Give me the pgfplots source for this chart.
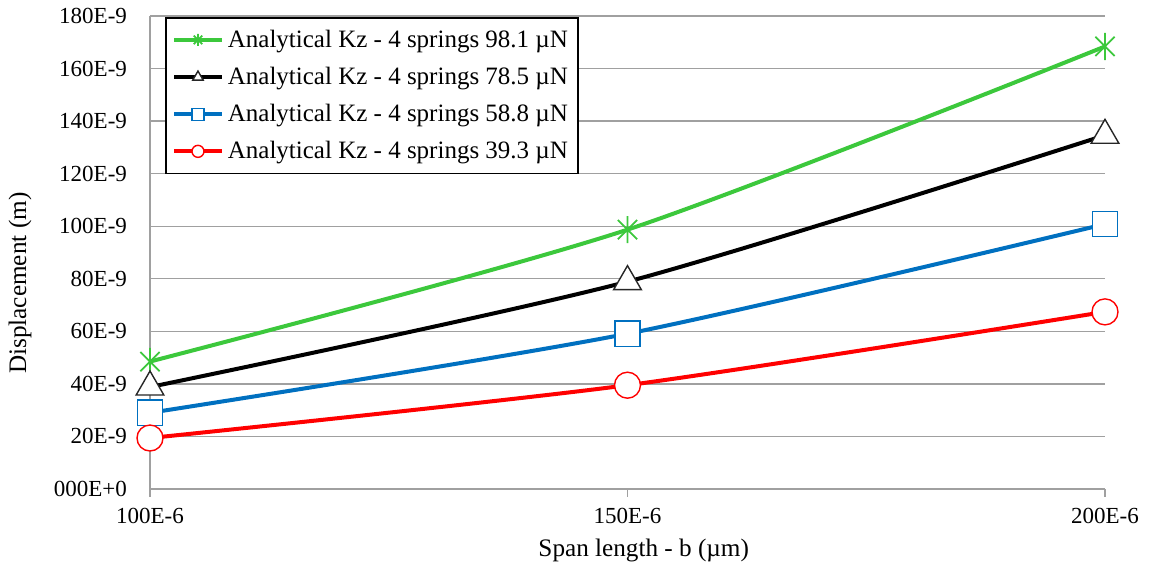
\documentclass[border=0pt]{standalone}
\usepackage{fontspec}
\setmainfont{Liberation Serif}
\usepackage{pgfplots}
\pgfplotsset{compat=1.18}
\definecolor{cgreen}{RGB}{60,200,60}
\definecolor{cblue}{RGB}{0,112,192}
\definecolor{cred}{RGB}{255,0,0}
\definecolor{cgrid}{RGB}{160,160,160}
\pgfdeclareplotmark{xstar}{%
  \pgfpathmoveto{\pgfqpoint{0pt}{\pgfplotmarksize}}%
  \pgfpathlineto{\pgfqpoint{0pt}{-\pgfplotmarksize}}%
  \pgfpathmoveto{\pgfqpoint{0.707\pgfplotmarksize}{0.707\pgfplotmarksize}}%
  \pgfpathlineto{\pgfqpoint{-0.707\pgfplotmarksize}{-0.707\pgfplotmarksize}}%
  \pgfpathmoveto{\pgfqpoint{-0.707\pgfplotmarksize}{0.707\pgfplotmarksize}}%
  \pgfpathlineto{\pgfqpoint{0.707\pgfplotmarksize}{-0.707\pgfplotmarksize}}%
  \pgfusepathqstroke}
\begin{document}
\begin{tikzpicture}
\begin{axis}[
  scale only axis, width=477.5pt, height=236.5pt,
  xmin=100, xmax=200, ymin=0, ymax=180,
  xtick={100,150,200}, xticklabels={100E-6,150E-6,200E-6},
  ytick={0,20,...,180},
  yticklabels={000E+0,20E-9,40E-9,60E-9,80E-9,100E-9,120E-9,140E-9,160E-9,180E-9},
  axis lines=left,
  axis line style={-, cgrid, line width=0.7pt},
  ymajorgrids, grid style={cgrid, line width=0.7pt},
  xtick style={cgrid, line width=0.7pt}, tick align=outside, major tick length=4pt,
  ytick style={draw=none},
  ticklabel style={font=\fontsize{11.5}{13}\selectfont},
  xticklabel style={yshift=-2pt},
  yticklabel style={xshift=-4pt},
  xlabel={Span length - b (µm)},
  ylabel={Displacement (m)},
  label style={font=\fontsize{12.6}{14}\selectfont},
  xlabel style={at={(axis description cs:0.517,-0.131)}, anchor=center},
  ylabel style={at={(axis description cs:-0.136,0.435)}, anchor=center},
  legend style={at={(axis description cs:0.016,0.998)}, anchor=north west,
    draw=black, line width=0.8pt, font=\fontsize{12.5}{14}\selectfont,
    row sep=4.4pt, inner xsep=3pt, inner ysep=4pt, fill=white},
  legend cell align=left,
  legend image code/.code={\draw[mark repeat=2,mark phase=2] plot coordinates {(0cm,0cm)(0.42cm,0cm)(0.84cm,0cm)};},
  legend image post style={mark size=3pt},
  clip=false,
  every axis plot/.append style={line width=2pt, smooth, tension=0.45},
]
\addplot[color=cgreen, mark=xstar, mark size=6.8pt, mark options={solid, line width=0.9pt}]
  coordinates {(100,48.5) (150,98.7) (200,168.4)};
\addlegendentry{Analytical Kz - 4 springs 98.1 µN}
\addplot[color=black, mark=triangle*, mark size=8pt, mark options={solid, line width=0.7pt, fill=white, draw=black!85}]
  coordinates {(100,38.8) (150,78.9) (200,134.6)};
\addlegendentry{Analytical Kz - 4 springs 78.5 µN}
\addplot[color=cblue, mark=square*, mark size=6.3pt, mark options={solid, line width=0.7pt, fill=white}]
  coordinates {(100,29.0) (150,59.1) (200,100.8)};
\addlegendentry{Analytical Kz - 4 springs 58.8 µN}
\addplot[color=cred, mark=*, mark size=6.5pt, mark options={solid, line width=0.7pt, fill=white}]
  coordinates {(100,19.4) (150,39.5) (200,67.4)};
\addlegendentry{Analytical Kz - 4 springs 39.3 µN}
\end{axis}
\pgfresetboundingbox
\useasboundingbox (-75pt,-41pt) rectangle (501pt,244.5pt);
\end{tikzpicture}
\end{document}
